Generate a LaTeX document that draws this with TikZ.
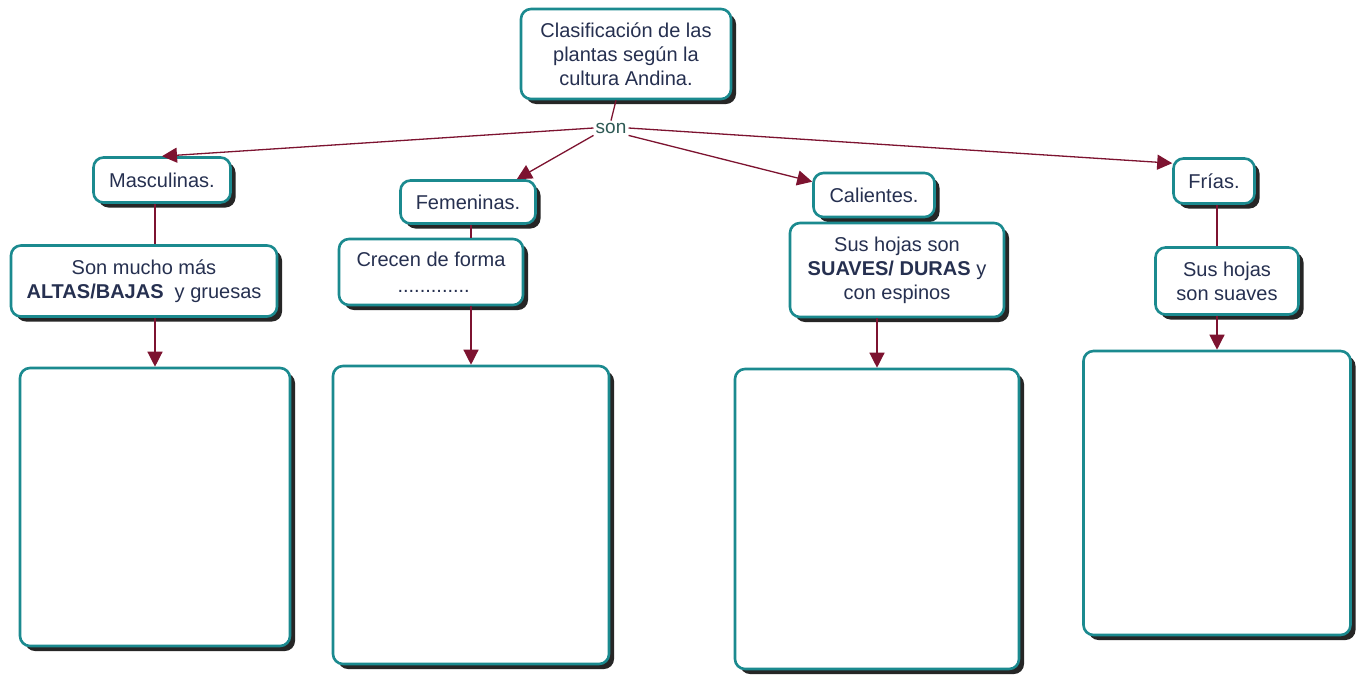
\documentclass[tikz,border=0pt]{standalone}
\usepackage{fontspec}
\setmainfont{Liberation Sans}
\usetikzlibrary{arrows.meta,shadows}
\definecolor{tealb}{HTML}{1B8A8F}
\definecolor{arrowred}{HTML}{7D1330}
\definecolor{navy}{HTML}{263050}
\definecolor{sonc}{HTML}{2E5A55}
\tikzset{
 box/.style={draw=tealb, line width=2.6pt, rounded corners=10pt, fill=white,
   drop shadow={shadow xshift=5pt, shadow yshift=-5pt, fill=black!85, opacity=1},
   inner sep=0pt, align=center, text=navy, font=\fontsize{20}{24}\selectfont},
 conn/.style={draw=arrowred, line width=1.3pt},
 arr/.style={conn, -{Triangle[length=15pt,width=15pt]}},
}
\begin{document}
\begin{tikzpicture}[x=1pt,y=-1pt]
\useasboundingbox[fill=white] (0,0) rectangle (1357,675);
\node[box, minimum width=210pt, minimum height=90pt] (top) at (626,54) {Clasificación de las\\plantas según la\\cultura Andina.};
\node[text=sonc, font=\fontsize{19}{20}\selectfont, inner sep=2pt] (son) at (611,128) {son};
\node[box, minimum width=137pt, minimum height=45pt] (masc) at (162,180) {Masculinas.};
\node[box, minimum width=266pt, minimum height=71pt] (mucho) at (144,281) {Son mucho más\\\textbf{ALTAS/BAJAS}\ \ y gruesas};
\node[box, minimum width=270pt, minimum height=278pt] (big1) at (155,507) {};
\node[box, minimum width=135pt, minimum height=43pt] (fem) at (468,202) {Femeninas.};
\node[box, minimum width=184pt, minimum height=66pt, align=left, font=\fontsize{20}{26}\selectfont] (crecen) at (431,272) {Crecen de forma\\\hspace*{41pt}.............};
\node[box, minimum width=276pt, minimum height=298pt] (big2) at (471,515) {};
\node[box, minimum width=121pt, minimum height=44pt] (cal) at (874,195) {Calientes.};
\node[box, minimum width=214pt, minimum height=94pt] (hojas) at (897,270) {Sus hojas son\\\textbf{SUAVES/ DURAS} y\\con espinos};
\node[box, minimum width=284pt, minimum height=300pt] (big3) at (877,519) {};
\node[box, minimum width=81pt, minimum height=45pt] (frias) at (1214,181) {Frías.};
\node[box, minimum width=143pt, minimum height=67pt] (hojas2) at (1227,281) {Sus hojas\\son suaves};
\node[box, minimum width=267pt, minimum height=284pt] (big4) at (1217,493) {};
% connectors
\draw[conn] ([xshift=-10pt]top.south) -- (son.north);
\draw[arr] (son.west) -- (masc.north);
\draw[arr] (son.south west) -- ([xshift=-20pt]fem.north east);
\draw[arr] (son.south east) -- ([yshift=-10pt]cal.north west);
\draw[arr] (son.east) -- ([yshift=-6pt]frias.north west);
\draw[conn] (masc.south -| big1.north) -- (mucho.north -| big1.north);
\draw[arr] (mucho.south -| big1.north) -- (big1.north);
\draw[conn] (fem.south -| big2.north) -- (crecen.north -| big2.north);
\draw[arr] (crecen.south -| big2.north) -- (big2.north);
\draw[arr] (hojas.south -| big3.north) -- (big3.north);
\draw[conn] (frias.south -| big4.north) -- (hojas2.north -| big4.north);
\draw[arr] (hojas2.south -| big4.north) -- (big4.north);
\end{tikzpicture}
\end{document}
